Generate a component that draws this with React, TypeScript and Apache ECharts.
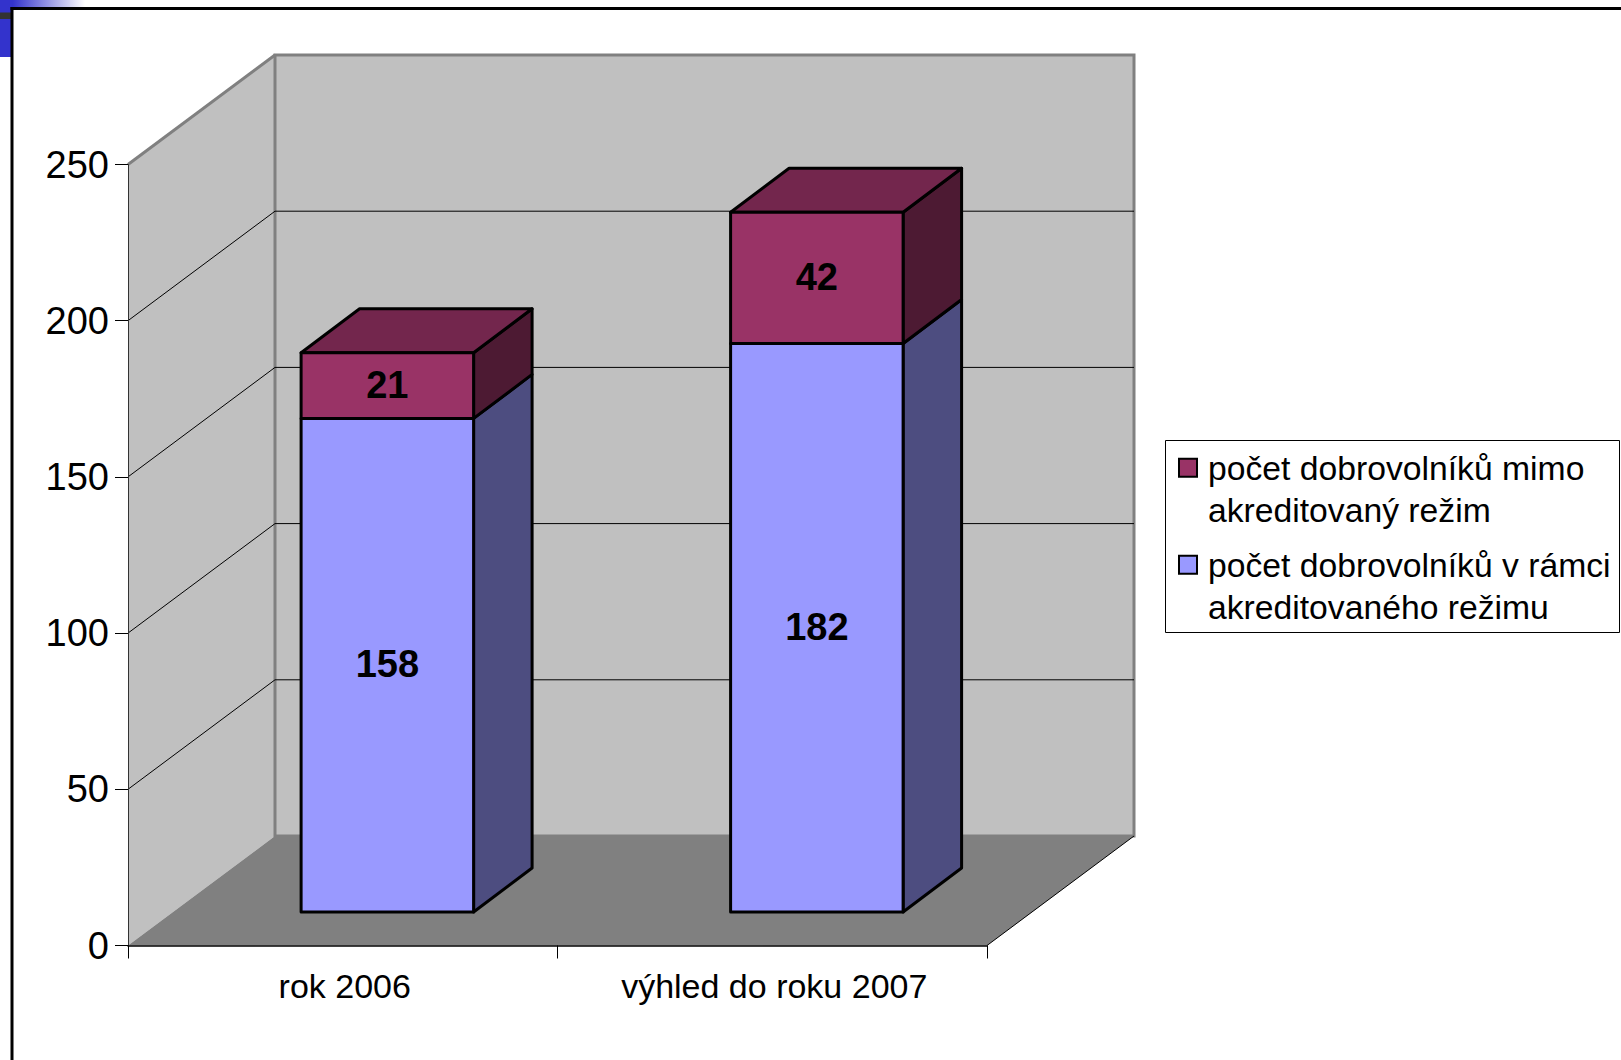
import React, { useEffect, useRef } from "react";
import * as echarts from "echarts";

const categories = ["rok 2006", "výhled do roku 2007"];
const accredited = [158, 182];
const outside = [21, 42];
const yTicks = [0, 50, 100, 150, 200, 250];
const nameOutside = "počet dobrovolníků mimo akreditovaný režim";
const nameInside = "počet dobrovolníků v rámci akreditovaného režimu";
const legendLines: Record<string, string> = {
  [nameOutside]: "počet dobrovolníků mimo\nakreditovaný režim",
  [nameInside]: "počet dobrovolníků v rámci\nakreditovaného režimu",
};

const FONT = '"Liberation Sans", Arial, sans-serif';
const DEPTH_X = 147;
const DEPTH_Y = 109.5;
const BAR_OFF_X = 44.6;
const BAR_OFF_Y = 33.5;
const BAR_DEPTH_X = 58.5;
const BAR_DEPTH_Y = 44;
const BAR_W = 172.5;
const EDGE = 3;

function barRenderer(front: string, side: string, top: string, showTop: boolean) {
  return (_params: any, api: any) => {
    const cat = api.value(0);
    const start = api.value(1);
    const end = api.value(2);
    const p0 = api.coord([cat, start]);
    const p1 = api.coord([cat, end]);
    const x0 = p0[0] + BAR_OFF_X - BAR_W / 2;
    const x1 = x0 + BAR_W;
    const yb = p0[1] - BAR_OFF_Y;
    const yt = p1[1] - BAR_OFF_Y;
    const edge = { stroke: "#000", lineWidth: EDGE, lineJoin: "round" };
    const children: any[] = [
      {
        type: "polygon",
        shape: {
          points: [
            [x1, yb],
            [x1 + BAR_DEPTH_X, yb - BAR_DEPTH_Y],
            [x1 + BAR_DEPTH_X, yt - BAR_DEPTH_Y],
            [x1, yt],
          ],
        },
        style: { fill: side, ...edge },
      },
    ];
    if (showTop) {
      children.push({
        type: "polygon",
        shape: {
          points: [
            [x0, yt],
            [x1, yt],
            [x1 + BAR_DEPTH_X, yt - BAR_DEPTH_Y],
            [x0 + BAR_DEPTH_X, yt - BAR_DEPTH_Y],
          ],
        },
        style: { fill: top, ...edge },
      });
    }
    children.push({
      type: "rect",
      shape: { x: x0, y: yt, width: BAR_W, height: yb - yt },
      style: { fill: front, ...edge },
    });
    children.push({
      type: "text",
      style: {
        x: (x0 + x1) / 2,
        y: (yb + yt) / 2 - 1,
        text: String(end - start),
        fill: "#000",
        font: `bold 38px ${FONT}`,
        textAlign: "center",
        textVerticalAlign: "middle",
      },
    });
    return { type: "group", children };
  };
}

function wallsRenderer(_params: any, api: any) {
  const cs = _params.coordSys;
  const L = cs.x;
  const R = cs.x + cs.width;
  const T = cs.y;
  const B = cs.y + cs.height;
  const wallLine = { stroke: "#808080", lineWidth: 3 };
  const children: any[] = [
    {
      type: "polygon",
      shape: { points: [[L, B], [L, T], [L + DEPTH_X, T - DEPTH_Y], [L + DEPTH_X, B - DEPTH_Y]] },
      style: { fill: "#C0C0C0" },
    },
    {
      type: "rect",
      shape: { x: L + DEPTH_X, y: T - DEPTH_Y, width: cs.width, height: cs.height },
      style: { fill: "#C0C0C0", ...wallLine },
    },
    {
      type: "line",
      shape: { x1: L, y1: T, x2: L + DEPTH_X, y2: T - DEPTH_Y },
      style: wallLine,
    },
    {
      type: "polygon",
      shape: { points: [[L, B], [R, B], [R + DEPTH_X, B - DEPTH_Y], [L + DEPTH_X, B - DEPTH_Y]] },
      style: { fill: "#808080" },
    },
    {
      type: "line",
      shape: { x1: R, y1: B, x2: R + DEPTH_X, y2: B - DEPTH_Y },
      style: { stroke: "#000", lineWidth: 1 },
    },
  ];
  yTicks
    .filter((v) => v > 0 && v < 250)
    .forEach((v) => {
      const y = api.coord([0, v])[1];
      children.push({
        type: "polyline",
        shape: {
          points: [
            [L, y],
            [L + DEPTH_X, y - DEPTH_Y],
            [R + DEPTH_X, y - DEPTH_Y],
          ],
        },
        style: { stroke: "#000", lineWidth: 1, fill: "none" },
      });
    });
  return { type: "group", children };
}

export default function App() {
  const ref = useRef<HTMLDivElement>(null);
  useEffect(() => {
    const chart = echarts.init(ref.current!, undefined, { renderer: "svg" });
    chart.setOption({
      animation: false,
      backgroundColor: "#fff",
      textStyle: { fontFamily: FONT },
      grid: { left: 128, top: 164.5, width: 859, height: 781, containLabel: false },
      xAxis: {
        type: "category",
        data: categories,
        z: 5,
        axisLine: { show: true, lineStyle: { color: "#000", width: 1.5 } },
        axisTick: { show: true, length: 13, lineStyle: { color: "#000", width: 1 } },
        axisLabel: { color: "#000", fontSize: 34, fontFamily: FONT, margin: 23, padding: [0, 0, 0, 4] },
      },
      yAxis: {
        type: "value",
        min: 0,
        max: 250,
        interval: 50,
        z: 5,
        splitLine: { show: false },
        axisLine: { show: true, lineStyle: { color: "#333", width: 1 } },
        axisTick: { show: true, length: 13, lineStyle: { color: "#000", width: 1 } },
        axisLabel: { color: "#000", fontSize: 38, fontFamily: FONT, margin: 19 },
      },
      legend: {
        data: [nameOutside, nameInside],
        orient: "vertical",
        left: 1178,
        top: 402,
        padding: 0,
        z: 10,
        icon: "rect",
        itemWidth: 18,
        itemHeight: 18,
        itemGap: -34.5,
        itemStyle: { borderColor: "#000", borderWidth: 2 },
        selectedMode: false,
        formatter: (name: string) => " \n" + legendLines[name],
        textStyle: { color: "#000", fontSize: 33.7, lineHeight: 42.5, fontFamily: FONT, padding: [0, 0, 4, 6] },
      },
      graphic: [
        { type: "rect", z: 0, shape: { x: 0, y: 0, width: 11, height: 57 }, style: { fill: "#3333CC" } },
        {
          type: "rect",
          z: 0,
          shape: { x: 0, y: 0, width: 85, height: 7 },
          style: {
            fill: new echarts.graphic.LinearGradient(0, 0, 1, 0, [
              { offset: 0, color: "#3333CC" },
              { offset: 0.15, color: "#3333CC" },
              { offset: 1, color: "#FFFFFF" },
            ]),
          },
        },
        { type: "rect", z: 0, shape: { x: 0, y: 12.5, width: 11, height: 6.5 }, style: { fill: "#333333" } },
        { type: "rect", z: 0, shape: { x: 10.5, y: 7, width: 1610.5, height: 3 }, style: { fill: "#000" } },
        { type: "rect", z: 0, shape: { x: 10.5, y: 7, width: 3, height: 1053 }, style: { fill: "#000" } },
        {
          type: "rect",
          z: 0,
          shape: { x: 1165.5, y: 440.5, width: 454, height: 192 },
          style: { fill: "#fff", stroke: "#000", lineWidth: 1 },
        },
      ],
      series: [
        {
          name: "walls",
          type: "custom",
          coordinateSystem: "cartesian2d",
          silent: true,
          z: 1,
          renderItem: wallsRenderer,
          data: [[0, 0]],
        },
        {
          name: nameInside,
          type: "custom",
          coordinateSystem: "cartesian2d",
          z: 2,
          itemStyle: { color: "#9999FF" },
          renderItem: barRenderer("#9999FF", "#4D4D80", "#4D4D80", false),
          encode: { x: 0, y: [1, 2] },
          data: accredited.map((v, i) => [i, 0, v]),
        },
        {
          name: nameOutside,
          type: "custom",
          coordinateSystem: "cartesian2d",
          z: 3,
          itemStyle: { color: "#993366" },
          renderItem: barRenderer("#993366", "#4D1A33", "#73264D", true),
          encode: { x: 0, y: [1, 2] },
          data: outside.map((v, i) => [i, accredited[i], accredited[i] + v]),
        },
      ],
    });
    return () => chart.dispose();
  }, []);
  return <div ref={ref} style={{ position: "absolute", left: 0, top: 0, width: 1621, height: 1060 }} />;
}
